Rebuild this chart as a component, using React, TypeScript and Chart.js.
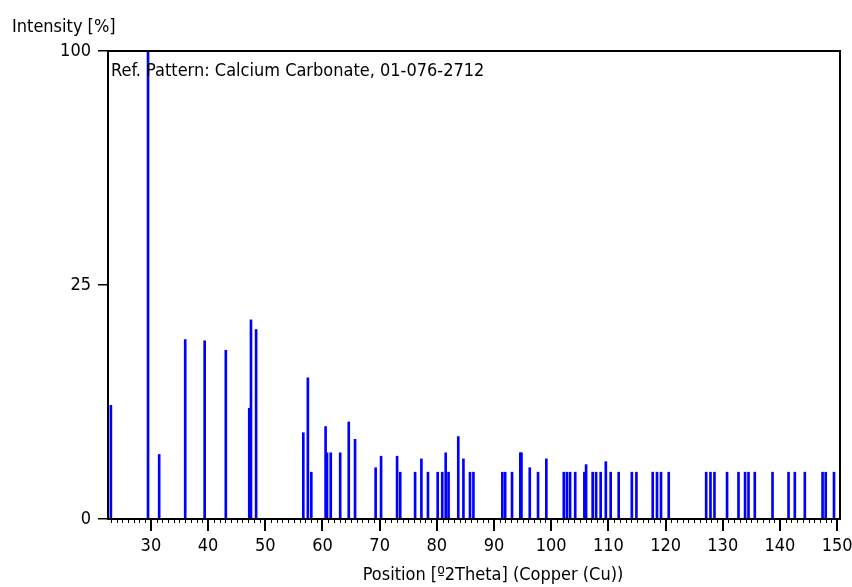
import React, { useEffect, useRef } from 'react';
import { Chart, registerables, LinearScale } from 'chart.js';

// Square-root intensity axis (as in the reference pattern plot)
class SqrtScale extends LinearScale {
  static id = 'sqrt';
  static defaults = LinearScale.defaults;
  getPixelForValue(value: number) {
    if (value === null || value === undefined || isNaN(value)) return NaN;
    const range = this.max - this.min;
    const t = range > 0 ? Math.sqrt(Math.max(0, value - this.min) / range) : 0;
    return this.getPixelForDecimal(t);
  }
  getValueForPixel(pixel: number) {
    const t = this.getDecimalForPixel(pixel);
    return this.min + t * t * (this.max - this.min);
  }
}

Chart.register(...registerables, SqrtScale);

// ---- Data ----
const positions = [
  23.0, 29.5, 31.45, 36.0, 39.4, 43.1, 47.2, 47.5, 48.4,
  56.65, 57.45, 58.05, 60.55, 60.8, 61.45, 63.1, 64.6, 65.7,
  69.3, 70.25, 73.05, 73.6, 76.2, 77.3, 78.45, 80.15, 80.95, 81.55, 82.05,
  83.75, 84.65, 85.8, 86.4, 91.45, 91.95, 93.15, 94.6, 94.8, 96.25, 97.7, 99.15,
  102.2, 102.75, 103.3, 104.2, 105.8, 106.1, 107.25, 107.85, 108.65, 109.55,
  110.4, 111.8, 114.1, 114.9, 117.75, 118.5, 119.2, 120.55,
  127.1, 127.85, 128.55, 130.75, 132.75, 133.9, 134.5, 135.6, 138.7,
  141.5, 142.6, 144.35, 147.45, 148.0, 149.45,
];
const intensities = [
  5.9, 100, 1.9, 14.7, 14.5, 13.0, 5.6, 18.1, 16.4,
  3.4, 9.1, 1, 3.9, 2, 2, 2, 4.3, 2.9,
  1.2, 1.8, 1.8, 1, 1, 1.65, 1, 1, 1, 2, 1,
  3.1, 1.65, 1, 1, 1, 1, 1, 2, 2, 1.2, 1, 1.65,
  1, 1, 1, 1, 1, 1.35, 1, 1, 1, 1.5,
  1, 1, 1, 1, 1, 1, 1, 1,
  1, 1, 1, 1, 1, 1, 1, 1, 1,
  1, 1, 1, 1, 1, 1,
];
const xTicks = [30, 40, 50, 60, 70, 80, 90, 100, 110, 120, 130, 140, 150];
const yTicks = [0, 25, 100];
const xMin = 22.5;
const xMax = 150.5;
const yTitle = 'Intensity [%]';
const xTitle = 'Position [º2Theta] (Copper (Cu))';
const annotation = 'Ref. Pattern: Calcium Carbonate, 01-076-2712';

const FONT = '"DejaVu Sans Condensed", "DejaVu Sans", sans-serif';
const FS = 18;

const decorPlugin = {
  id: 'decor',
  afterDraw(chart: any) {
    const ctx = chart.ctx as CanvasRenderingContext2D;
    const { left, right, top, bottom } = chart.chartArea;
    const xs = chart.scales.x;
    ctx.save();
    ctx.strokeStyle = '#000';
    ctx.lineWidth = 1;
    for (let v = Math.ceil(xs.min); v <= xs.max; v++) {
      if (v % 10 === 0) continue;
      const px = Math.round(xs.getPixelForValue(v)) + 0.5;
      ctx.beginPath();
      ctx.moveTo(px, bottom);
      ctx.lineTo(px, bottom + 4);
      ctx.stroke();
    }
    ctx.lineWidth = 2;
    ctx.strokeRect(left, top, right - left, bottom - top);
    ctx.fillStyle = '#000';
    ctx.font = `${FS}px ${FONT}`;
    ctx.textBaseline = 'alphabetic';
    ctx.textAlign = 'left';
    ctx.fillText(yTitle, 12, 32);
    ctx.textAlign = 'center';
    ctx.fillText(xTitle, 493, 580);
    ctx.textAlign = 'left';
    ctx.fillText(annotation, 111, 76);
    ctx.restore();
  },
};

export default function App() {
  const ref = useRef<HTMLCanvasElement>(null);
  useEffect(() => {
    if (!ref.current) return;
    const chart = new Chart(ref.current, {
      type: 'bar',
      data: {
        datasets: [
          {
            data: positions.map((x, i) => ({ x, y: intensities[i] })),
            backgroundColor: '#0000ff',
            borderWidth: 0,
            barThickness: 2,
            grouped: false,
          } as any,
        ],
      },
      options: {
        animation: false,
        responsive: false,
        maintainAspectRatio: false,
        devicePixelRatio: 1,
        layout: { padding: { top: 51, right: 12, left: 0, bottom: 0 } },
        plugins: { legend: { display: false }, tooltip: { enabled: false } },
        scales: {
          x: {
            type: 'linear',
            offset: false,
            min: xMin,
            max: xMax,
            afterBuildTicks: (s: any) => {
              s.ticks = xTicks.map((value) => ({ value }));
            },
            afterFit: (s: any) => {
              s.height = 68;
              s.paddingLeft = 0;
              s.paddingRight = 0;
            },
            ticks: {
              font: { family: FONT, size: FS },
              color: '#000',
              padding: 5,
              maxRotation: 0,
              autoSkip: false,
              callback: (v: any) => String(v),
            },
            grid: { offset: false, drawOnChartArea: false, drawTicks: true, tickLength: 12, color: '#000', lineWidth: 2 },
            border: { display: false },
          },
          y: {
            type: 'sqrt' as any,
            min: 0,
            max: 100,
            afterBuildTicks: (s: any) => {
              s.ticks = yTicks.map((value) => ({ value }));
            },
            afterFit: (s: any) => {
              s.width = 108;
              s.paddingTop = 0;
              s.paddingBottom = 0;
            },
            ticks: {
              font: { family: FONT, size: FS },
              color: '#000',
              padding: 7,
              callback: (v: any) => String(v),
            },
            grid: { drawOnChartArea: false, drawTicks: true, tickLength: 10, color: '#000', lineWidth: 1.5 },
            border: { display: false },
          },
        },
      } as any,
      plugins: [decorPlugin],
    });
    return () => chart.destroy();
  }, []);
  return (
    <div style={{ position: 'fixed', left: 0, top: 0, width: 852, height: 587, background: '#fff' }}>
      <canvas ref={ref} width={852} height={587} style={{ display: 'block', width: 852, height: 587 }} />
    </div>
  );
}
